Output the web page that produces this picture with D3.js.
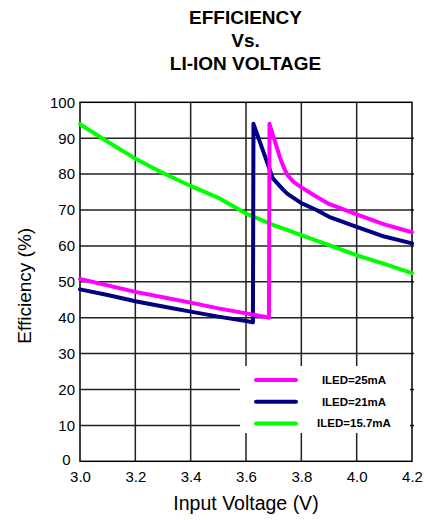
<!DOCTYPE html>
<html>
<head>
<meta charset="utf-8">
<script src="https://cdn.jsdelivr.net/npm/d3@7"></script>
<style>
  html, body { margin: 0; padding: 0; background: #fff; }
  svg { display: block; }
  text { font-family: "Liberation Sans", Arial, sans-serif; fill: #000; }
</style>
</head>
<body>
<div id="chart"></div>
<script>
// Efficiency (%) against Li-ion input voltage for three LED currents
const titleLines = ["EFFICIENCY", "Vs.", "LI-ION VOLTAGE"];
const xTicks = [3.0, 3.2, 3.4, 3.6, 3.8, 4.0, 4.2];
const yTicks = [0, 10, 20, 30, 40, 50, 60, 70, 80, 90, 100];

const seriesNames = ["ILED=25mA", "ILED=21mA", "ILED=15.7mA"];
const seriesColors = ["#ff00ff", "#000080", "#00ff00"];

const v25 = [3.0, 3.1, 3.2, 3.3, 3.4, 3.5, 3.6, 3.683, 3.685, 3.697, 3.711, 3.722, 3.735, 3.75, 3.771, 3.8, 3.855, 3.9, 4.0, 4.1, 4.2];
const eff25 = [50.8, 49.0, 47.2, 45.7, 44.2, 42.6, 41.2, 40.0, 94.0, 90.9, 87.6, 84.8, 82.1, 79.7, 77.9, 76.3, 73.7, 71.7, 68.8, 66.0, 63.8];

const v21 = [3.0, 3.1, 3.2, 3.3, 3.4, 3.5, 3.6, 3.625, 3.627, 3.697, 3.735, 3.75, 3.8, 3.855, 3.9, 4.0, 4.1, 4.2];
const eff21 = [47.9, 46.3, 44.6, 43.1, 41.7, 40.3, 39.1, 38.7, 94.0, 78.8, 75.6, 74.5, 71.9, 70.0, 68.1, 65.3, 62.6, 60.7];

const v157 = [3.0, 3.1, 3.2, 3.3, 3.4, 3.5, 3.6, 3.7, 3.8, 3.9, 4.0, 4.1, 4.2];
const eff157 = [93.9, 89.0, 84.3, 80.3, 76.7, 73.4, 69.0, 65.8, 63.0, 60.2, 57.4, 55.0, 52.4];

const series = [
  { name: seriesNames[0], color: seriesColors[0], v: v25, e: eff25 },
  { name: seriesNames[1], color: seriesColors[1], v: v21, e: eff21 },
  { name: seriesNames[2], color: seriesColors[2], v: v157, e: eff157 }
];

const W = 425, H = 520;
const plot = { left: 80, right: 412, top: 102.3, bottom: 461.3 };

const svg = d3.select("#chart").append("svg")
  .attr("width", W).attr("height", H);

const x = d3.scaleLinear().domain([3.0, 4.2]).range([plot.left, plot.right]);
const y = d3.scaleLinear().domain([0, 100]).range([plot.bottom, plot.top]);

// Title
svg.append("g").selectAll("text")
  .data(titleLines).join("text")
  .attr("x", 245.5)
  .attr("y", (d, i) => 23.5 + i * 23)
  .attr("text-anchor", "middle")
  .style("font-weight", "bold")
  .style("font-size", "19px")
  .text(d => d);

// Grid lines
const grid = svg.append("g");
grid.selectAll("line.v")
  .data(xTicks.slice(1, -1)).join("line")
  .attr("class", "v")
  .attr("x1", d => x(d)).attr("x2", d => x(d))
  .attr("y1", plot.top).attr("y2", plot.bottom)
  .attr("stroke", "#222").attr("stroke-width", 1.5);
grid.selectAll("line.h")
  .data(yTicks.slice(1, -1)).join("line")
  .attr("class", "h")
  .attr("x1", plot.left).attr("x2", plot.right + 2)
  .attr("y1", d => y(d)).attr("y2", d => y(d))
  .attr("stroke", "#222").attr("stroke-width", 1.5);

// Legend background hides the grid behind it
const legend = svg.append("g");
legend.append("rect")
  .attr("x", 240).attr("y", 366)
  .attr("width", 170).attr("height", 67)
  .attr("fill", "#fff");

// Frame
svg.append("rect")
  .attr("x", plot.left).attr("y", plot.top)
  .attr("width", plot.right - plot.left).attr("height", plot.bottom - plot.top)
  .attr("fill", "none").attr("stroke", "#000").attr("stroke-width", 1.5);

// Axes (labels only)
const xAxis = d3.axisBottom(x).tickValues(xTicks).tickFormat(d3.format(".1f")).tickSize(0).tickPadding(10);
const yAxis = d3.axisLeft(y).tickValues(yTicks).tickFormat(d3.format("d")).tickSize(0).tickPadding(5);

const gx = svg.append("g").attr("transform", `translate(0,${plot.bottom})`).call(xAxis);
const gy = svg.append("g").attr("transform", `translate(${plot.left},0)`).call(yAxis);
[gx, gy].forEach(g => {
  g.select(".domain").remove();
  g.selectAll("text")
    .style("font-family", '"Liberation Sans", Arial, sans-serif')
    .style("font-size", "15px")
    .attr("fill", "#000");
});
// the zero label sits a little higher and further left, clear of the 3.0 label
gy.selectAll(".tick").filter(d => d === 0).select("text")
  .attr("dx", "-0.3em").attr("dy", "0.2em");

// Axis titles
svg.append("text")
  .attr("x", (plot.left + plot.right) / 2)
  .attr("y", 509.5)
  .attr("text-anchor", "middle")
  .style("font-size", "19.5px")
  .text("Input Voltage (V)");

svg.append("text")
  .attr("transform", `translate(31,${(plot.top + plot.bottom) / 2 + 4}) rotate(-90)`)
  .attr("text-anchor", "middle")
  .style("font-size", "19px")
  .text("Efficiency (%)");

// Curves
const line = d3.line()
  .x(d => x(d[0]))
  .y(d => y(d[1]));

svg.append("g").selectAll("path")
  .data(series.slice().reverse()).join("path")
  .attr("d", s => line(s.v.map((v, i) => [v, s.e[i]])))
  .attr("fill", "none")
  .attr("stroke", s => s.color)
  .attr("stroke-width", 4)
  .attr("stroke-linejoin", "round")
  .attr("stroke-linecap", "round");

// Legend entries
const rows = legend.selectAll("g.row")
  .data(series).join("g")
  .attr("class", "row")
  .attr("transform", (d, i) => `translate(0,${380 + i * 21.7})`);
rows.append("line")
  .attr("x1", 256).attr("x2", 296)
  .attr("stroke", d => d.color)
  .attr("stroke-width", 4)
  .attr("stroke-linecap", "round");
rows.append("text")
  .attr("x", 354)
  .attr("dy", "0.35em")
  .attr("text-anchor", "middle")
  .style("font-weight", "bold")
  .style("font-size", "11.5px")
  .text(d => d.name);
</script>
</body>
</html>
